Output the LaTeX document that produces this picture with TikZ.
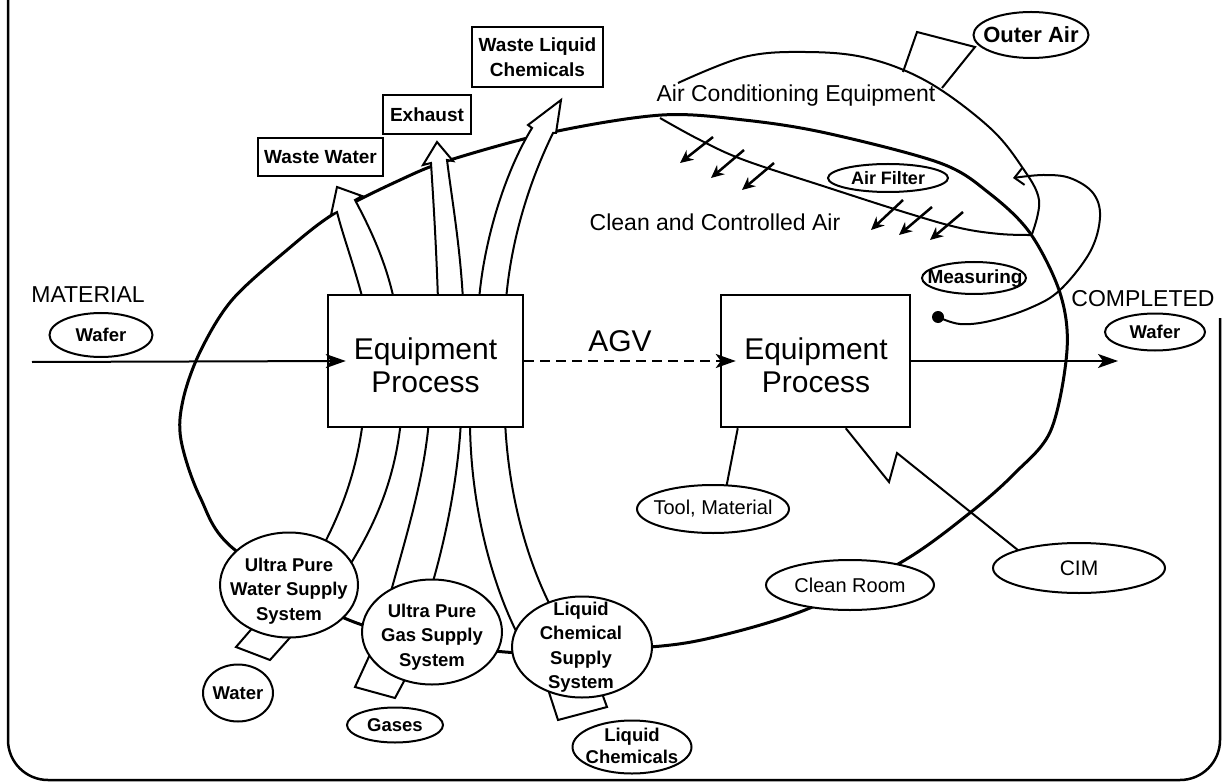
\documentclass[tikz,border=0pt]{standalone}
\usepackage{fontspec}
\setmainfont{Liberation Sans}
\usetikzlibrary{shapes.geometric,arrows.meta,calc}
\newcommand\setfs[2]{\fontsize{#1}{#2}\selectfont}
\begin{document}
\begin{tikzpicture}[x=1pt,y=-1pt,
  ln/.style={line width=2pt},
  ell/.style={draw, ellipse, line width=2pt, fill=white, inner sep=0pt, outer sep=0pt},
  wbox/.style={draw, rectangle, line width=2pt, fill=white, inner sep=0pt, align=center, font=\setfs{19}{25}\bfseries},
  lbl/.style={inner sep=0pt, align=center, font=\setfs{18.5}{24.5}\bfseries},
  rlbl/.style={inner sep=0pt, align=center, font=\setfs{20}{24}},
  big/.style={inner sep=0pt, align=center, font=\setfs{23}{28}},
  procbox/.style={draw, rectangle, line width=2.5pt, fill=white, inner sep=0pt, minimum height=132pt},
  proctext/.style={inner sep=0pt, align=center, font=\setfs{30}{33}},
  flow/.style={line width=2.5pt, -{Stealth[length=13pt,width=12pt]}},
  main/.style={line width=2pt, -{Stealth[length=20pt,width=14pt,inset=5pt]}},
  broad/.style={line width=2pt, fill=white, line join=miter},
]
\useasboundingbox (0,0) rectangle (1222,783);

% frame
\draw[line width=2.5pt, rounded corners=40pt] (8,0) -- (8,780) -- (1220,780) -- (1220,318);

% clean room outline
\draw[line width=3pt] plot[smooth cycle, tension=0.55] coordinates {(235,550) (200,497) (181,440) (183,400) (200,352) (232,300) (287,250) (335,213) (400,180) (450,160) (553,132) (662,115) (744,120) (826,133) (940,163) (989,193) (1030,233) (1060,293) (1067,350) (1051,430) (1015,473) (971,512) (905,560) (810,608) (723,635) (650,647) (505,652) (354,622)};

% air conditioning equipment
\draw[ln] plot[smooth, tension=0.6] coordinates {(678,83) (744,57) (805,52) (867,58) (928,82) (989,127) (1022,167) (1039,200) (1032,234)};
\draw[ln] plot[smooth, tension=0.6] coordinates {(660,118) (700,140) (744,160) (826,187) (907,213) (960,228) (1000,234) (1032,235)};
\draw[ln] (903,72) -- (917,32) -- (975,47) -- (942,88);

% clean air flow arrows
\draw[flow] (713,137) -- (680,163);
\draw[flow] (744,150) -- (711,178);
\draw[flow] (774,163) -- (742,190);
\draw[flow] (903,200) -- (871,230);
\draw[flow] (932,207) -- (899,235);
\draw[flow] (963,212) -- (930,240);

% measuring feedback
\node[circle, fill, inner sep=0pt, minimum size=12pt] (dot) at (938,317) {};
\draw[ln, -{Straight Barb[length=9pt,width=17pt]}] plot[smooth, tension=0.6] coordinates {(dot.center) (960,324) (990,321) (1030,308) (1060,290) (1090,252) (1100,217) (1093,193) (1070,178) (1043,175) (1013,178)};

% waste outlets (broad arrows)
\draw[broad] (363,300) .. controls (353,262) and (343,236) .. (337,212) -- (331,215) -- (337,187) -- (362,196) -- (355,200) .. controls (370,228) and (386,262) .. (394,300) -- cycle;
\draw[broad] (438,300) .. controls (436,240) and (433,195) .. (431,163) -- (423,165) -- (437,142) -- (453,161) -- (447,160) .. controls (452,200) and (460,245) .. (463,300) -- cycle;
\draw[broad] (479,300) .. controls (484,240) and (505,172) .. (532,128) -- (528,125) -- (561,100) -- (556,133) -- (553,133) .. controls (534,172) and (512,230) .. (506,300) -- cycle;

% supply tubes
\draw[ln] (363,420) .. controls (357,470) and (342,510) .. (322,548);
\draw[ln] (401,420) .. controls (395,480) and (375,525) .. (348,568);
\draw[ln] (429,420) .. controls (424,480) and (405,540) .. (390,595);
\draw[ln] (461,420) .. controls (458,480) and (445,540) .. (432,585);
\draw[ln] (470,420) .. controls (470,500) and (490,580) .. (518,635);
\draw[ln] (505,420) .. controls (508,490) and (525,555) .. (550,605);

% ducts of supply systems
\draw[ln, fill=white] (255,625) -- (236,647) -- (270,660) -- (295,632) -- cycle;
\draw[ln, fill=white] (372,650) -- (355,687) -- (395,698) -- (410,670) -- cycle;
\draw[ln, fill=white] (545,680) -- (558,720) -- (607,707) -- (600,688) -- cycle;

% process boxes
\node[procbox, minimum width=195pt] (lbox) at (425.5,361) {};
\node[procbox, minimum width=189pt] (rbox) at (815.5,361) {};
\node[proctext] (ltext) at (425.5,365) {Equipment\\Process};
\node[proctext] (rtext) at (816,365) {Equipment\\Process};

% waste boxes
\node[wbox, minimum width=125pt, minimum height=38pt] (ww) at (320.5,157) {Waste Water};
\node[wbox, minimum width=88pt, minimum height=39pt] (ex) at (427,114.5) {Exhaust};
\node[wbox, minimum width=131pt, minimum height=60pt] (wl) at (537.5,57) {Waste Liquid\\Chemicals};

% supply systems
\node[ell, minimum width=138pt, minimum height=105pt] (upw) at (289,585) {};
\node[lbl] (upwt) at (289,591) {Ultra Pure\\Water Supply\\System};
\node[ell, minimum width=140pt, minimum height=105pt] (upg) at (432,632) {};
\node[lbl] (upgt) at (432,637) {Ultra Pure\\Gas Supply\\System};
\node[ell, minimum width=140pt, minimum height=101pt] (lcs) at (582,647) {};
\node[lbl] (lcst) at (581,647) {Liquid\\Chemical\\Supply\\System};

\node[ell, minimum width=70pt, minimum height=57pt] (water) at (238,693) {};
\node[lbl] (watert) at (water) {Water};
\node[ell, minimum width=96pt, minimum height=35pt] (gases) at (395,725) {};
\node[lbl] (gasest) at (gases) {Gases};
\node[ell, minimum width=119pt, minimum height=53pt] (liqc) at (632,747) {};
\node[lbl, font=\setfs{18.5}{22}\bfseries] (liqct) at (632,746) {Liquid\\Chemicals};

% other ellipses
\node[ell, minimum width=103pt, minimum height=44pt] (wafl) at (101,335) {};
\node[lbl] (waflt) at (wafl) {Wafer};
\node[ell, minimum width=100pt, minimum height=37pt] (wafr) at (1155,332) {};
\node[lbl] (wafrt) at (wafr) {Wafer};
\node[ell, minimum width=115pt, minimum height=46pt] (outer) at (1031,35) {};
\node[lbl, font=\setfs{22}{26}\bfseries] (outert) at (outer) {Outer Air};
\node[ell, minimum width=120pt, minimum height=28pt] (filter) at (888,178) {};
\node[lbl, font=\setfs{18}{20}\bfseries] (filtert) at (filter) {Air Filter};
\node[ell, minimum width=104pt, minimum height=32pt] (meas) at (974,278) {};
\node[lbl, font=\setfs{19}{22}\bfseries] (meast) at (975,279) {Measuring};
\node[ell, minimum width=152pt, minimum height=48pt] (tool) at (713,509) {};
\node[rlbl] (toolt) at (tool) {Tool, Material};
\node[ell, minimum width=168pt, minimum height=50pt] (croom) at (850,585) {};
\node[rlbl] (croomt) at (croom) {Clean Room};
\node[ell, minimum width=172pt, minimum height=50pt] (cim) at (1079,568) {};
\node[rlbl, font=\setfs{21}{24}] (cimt) at (cim) {CIM};

% connectors to tool and CIM
\draw[ln] ($(rbox.south west)+(18,0)$) -- (tool.60);
\draw[ln, line join=miter] ($(rbox.south west)+(126,0)$) -- (889,482) -- (897,453) -- (cim.north west);

% material flow
\coordinate (matstart) at (32,362);
\coordinate (outtip) at (1118,361);
\draw[main] (matstart) -- ($(lbox.west)+(19,0)$);
\draw[main, dash pattern=on 10pt off 6pt] (lbox.east) -- ($(rbox.west)+(16,0)$);
\draw[main] (rbox.east) -- (outtip);

% texts
\node[big] (mattxt) at (88,295) {MATERIAL};
\node[big] (comptxt) at (1143,299) {COMPLETED};
\node[inner sep=0pt, font=\setfs{30}{33}] (agv) at (620,341) {AGV};
\node[big] (actxt) at (796,96) {Air Conditioning Equipment};
\node[big] (cca) at (715,222) {Clean and Controlled Air};
\end{tikzpicture}
\end{document}
